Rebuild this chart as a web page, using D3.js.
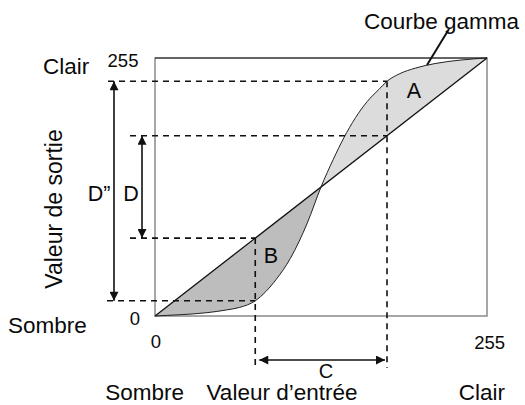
<!DOCTYPE html>
<html>
<head>
<meta charset="utf-8">
<script src="https://cdn.jsdelivr.net/npm/d3@7/dist/d3.min.js"></script>
<style>
  html, body { margin: 0; padding: 0; background: #fff; }
  svg text { font-family: "Liberation Sans", Arial, Helvetica, sans-serif; fill: #0a0a0a; }
</style>
</head>
<body>
<svg id="chart" width="525" height="405"></svg>
<script>
// Gamma curve: input level -> output level (0..255)
const curveInput  = [0, 20,  40,  55, 65,  77, 85, 93, 104, 117, 127.5, 137, 145, 154, 163, 172, 178.2, 188,   200, 215,   235, 255];
const curveOutput = [0, 1.3, 3.3, 6,  8.5, 15, 24, 36, 57,  92,  127.5, 155, 176, 196, 212, 224, 232,   239.5, 245, 249.5, 253, 255];

// Reference input levels (the two vertical guides, span C)
const guideInputs = [77, 178.2];
// Axis extremes and their labels
const axisDomain = [0, 255];
const tickLabels = ["0", "255"];
const regionLabels = ["A", "B"];
// Input where the curve crosses the identity line
const crossInput = 127.5;

const svg = d3.select("#chart");

const x = d3.scaleLinear().domain(axisDomain).range([155, 487]);
const y = d3.scaleLinear().domain(axisDomain).range([316, 58]);

const pts = curveInput.map((v, i) => [v, curveOutput[i]]);
const curveAt = v => curveOutput[curveInput.indexOf(v)];

// clip regions for A (curve above diagonal) and B (curve below)
const defs = svg.append("defs");
defs.append("clipPath").attr("id", "clipB").append("rect")
  .attr("x", x(0)).attr("y", y(255)).attr("width", x(crossInput) - x(0)).attr("height", y(0) - y(255));
defs.append("clipPath").attr("id", "clipA").append("rect")
  .attr("x", x(crossInput)).attr("y", y(255)).attr("width", x(255) - x(crossInput)).attr("height", y(0) - y(255));

const marker = defs.append("marker")
  .attr("id", "head").attr("markerUnits", "userSpaceOnUse")
  .attr("viewBox", "0 0 10 10").attr("refX", 10).attr("refY", 5)
  .attr("markerWidth", 11).attr("markerHeight", 9)
  .attr("orient", "auto-start-reverse");
marker.append("path").attr("d", "M0,0 L10,5 L0,10 Z").attr("fill", "#111");

const area = d3.area()
  .x(d => x(d[0]))
  .y0(d => y(d[0]))
  .y1(d => y(d[1]))
  .curve(d3.curveMonotoneX);

svg.append("path").datum(pts).attr("d", area)
  .attr("fill", "#bdbdbd").attr("clip-path", "url(#clipB)");
svg.append("path").datum(pts).attr("d", area)
  .attr("fill", "#dcdcdc").attr("clip-path", "url(#clipA)");

// frame
svg.append("rect")
  .attr("x", x(0)).attr("y", y(255))
  .attr("width", x(255) - x(0)).attr("height", y(0) - y(255))
  .attr("fill", "none").attr("stroke", "#8a8a8a").attr("stroke-width", 1.5);
svg.append("line")
  .attr("x1", x(0)).attr("x2", x(255)).attr("y1", y(255)).attr("y2", y(255))
  .attr("stroke", "#222").attr("stroke-width", 1);

// identity diagonal
svg.append("line")
  .attr("x1", x(0)).attr("y1", y(0)).attr("x2", x(255)).attr("y2", y(255))
  .attr("stroke", "#111").attr("stroke-width", 1.3);

// gamma curve
const line = d3.line().x(d => x(d[0])).y(d => y(d[1])).curve(d3.curveMonotoneX);
svg.append("path").datum(pts).attr("d", line)
  .attr("fill", "none").attr("stroke", "#222").attr("stroke-width", 1);

// guides
const dash = "6,5";
const outCurve = guideInputs.map(curveAt);   // span D''
const outDiag = guideInputs.slice();         // span D
const xArrowD2 = 114, xArrowD = 142;

const guides = [
  { x1: xArrowD2 - 6, y: outCurve[1], x2: x(guideInputs[1]) },
  { x1: xArrowD2 - 7, y: outCurve[0], x2: x(guideInputs[0]) },
  { x1: xArrowD - 12, y: outDiag[1], x2: x(guideInputs[1]) },
  { x1: xArrowD - 12, y: outDiag[0], x2: x(guideInputs[0]) }
];
guides.forEach(g => {
  svg.append("line")
    .attr("x1", g.x1).attr("x2", g.x2).attr("y1", y(g.y)).attr("y2", y(g.y))
    .attr("stroke", "#111").attr("stroke-width", 1.6).attr("stroke-dasharray", dash);
});
[[guideInputs[1], outCurve[1]], [guideInputs[0], outDiag[0]]].forEach(([gx, gy]) => {
  svg.append("line")
    .attr("x1", x(gx)).attr("x2", x(gx)).attr("y1", y(gy)).attr("y2", 368)
    .attr("stroke", "#111").attr("stroke-width", 1.6).attr("stroke-dasharray", dash);
});

// double arrows
function arrow(x1, y1, x2, y2) {
  svg.append("line")
    .attr("x1", x1).attr("y1", y1).attr("x2", x2).attr("y2", y2)
    .attr("stroke", "#111").attr("stroke-width", 1.6)
    .attr("marker-start", "url(#head)").attr("marker-end", "url(#head)");
}
arrow(xArrowD2, y(outCurve[1]), xArrowD2, y(outCurve[0]));
arrow(xArrowD, y(outDiag[1]), xArrowD, y(outDiag[0]));
arrow(x(guideInputs[0]) + 4, 360, x(guideInputs[1]) - 2, 360);

// leader for the curve label
svg.append("line")
  .attr("x1", 427).attr("y1", 65).attr("x2", 449).attr("y2", 29)
  .attr("stroke", "#111").attr("stroke-width", 2);

// texts
const t = (s, tx, ty, size, anchor) => svg.append("text")
  .attr("x", tx).attr("y", ty).attr("font-size", size)
  .attr("text-anchor", anchor || "start").text(s);

t("Courbe gamma", 519, 29, 22.5, "end");
t("Clair", 43, 74, 22.5);
t(tickLabels[1], 123, 67, 18.5, "middle");
t(tickLabels[0], 135, 325, 18.5, "middle");
t("Sombre", 8, 333, 22.5);
t(tickLabels[0], x(0) + 1, 348, 18.5, "middle");
t(tickLabels[1], 505, 349, 18.5, "end");
t("C", 326, 378, 20, "middle");
t("Sombre", 184, 400, 22.5, "end");
t("Valeur d\u2019entr\u00e9e", 282, 400, 22.5, "middle");
t("Clair", 505, 400, 22.5, "end");
t("D\u201d", 99, 201, 21.5, "middle");
t("D", 131, 201, 21.5, "middle");
t(regionLabels[0], 414, 98, 21.5, "middle");
t(regionLabels[1], 271, 263, 21.5, "middle");

svg.append("text")
  .attr("transform", "translate(62,209) rotate(-90)")
  .attr("font-size", 23).attr("text-anchor", "middle")
  .text("Valeur de sortie");
</script>
</body>
</html>
